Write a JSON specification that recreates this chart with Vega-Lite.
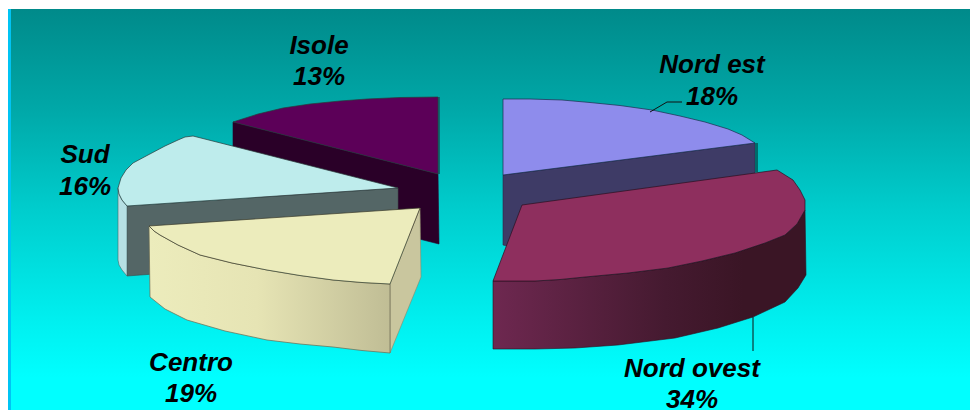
{
"$schema":"https://vega.github.io/schema/vega-lite/v6.json",
"width":970,"height":410,"padding":0,"autosize":{"type":"none"},"background":"white",
"view":{"stroke":null},
"datasets":{
"panels":[{"part":"sfondo","x":11,"x2":970,"y":9,"y2":410},{"part":"bordo","x":8,"x2":11,"y":9,"y2":410}],
"slices":[
{"slice":"Isole","share":0.13,"x":319,"yName":54,"yShare":85},
{"slice":"Sud","share":0.16,"x":85,"yName":163,"yShare":195},
{"slice":"Centro","share":0.19,"x":191,"yName":371,"yShare":402},
{"slice":"Nord est","share":0.18,"x":712,"yName":73,"yShare":105},
{"slice":"Nord ovest","share":0.34,"x":692,"yName":377,"yShare":408}],
"leaders":[
{"leader":"ne","seq":1,"x":650,"y":112},{"leader":"ne","seq":2,"x":667,"y":102},{"leader":"ne","seq":3,"x":682,"y":102},
{"leader":"no","seq":1,"x":753,"y":317},{"leader":"no","seq":2,"x":753,"y":351}],
"faces":[
{"face":"isole_cut","seq":1,"x":233,"y":122},{"face":"isole_cut","seq":2,"x":438,"y":174},{"face":"isole_cut","seq":3,"x":439,"y":244},{"face":"isole_cut","seq":4,"x":233,"y":192},{"face":"isole_cut","seq":5,"x":233,"y":122},
{"face":"isole_edge","seq":1,"x":438,"y":97},{"face":"isole_edge","seq":2,"x":440,"y":97},{"face":"isole_edge","seq":3,"x":440,"y":174},{"face":"isole_edge","seq":4,"x":438,"y":174},{"face":"isole_edge","seq":5,"x":438,"y":97},
{"face":"isole_top","seq":1,"x":438,"y":174},{"face":"isole_top","seq":2,"x":438,"y":97},{"face":"isole_top","seq":3,"x":400,"y":97.5},{"face":"isole_top","seq":4,"x":367,"y":99},{"face":"isole_top","seq":5,"x":340,"y":101},{"face":"isole_top","seq":6,"x":310,"y":104},{"face":"isole_top","seq":7,"x":283,"y":108},{"face":"isole_top","seq":8,"x":258,"y":114},{"face":"isole_top","seq":9,"x":233,"y":122},{"face":"isole_top","seq":10,"x":438,"y":174},
{"face":"sud_cut","seq":1,"x":127,"y":206},{"face":"sud_cut","seq":2,"x":398,"y":188},{"face":"sud_cut","seq":3,"x":398,"y":256},{"face":"sud_cut","seq":4,"x":127,"y":276},{"face":"sud_cut","seq":5,"x":127,"y":206},
{"face":"sud_side","seq":1,"x":118,"y":188},{"face":"sud_side","seq":2,"x":119,"y":194},{"face":"sud_side","seq":3,"x":122,"y":200},{"face":"sud_side","seq":4,"x":127,"y":206},{"face":"sud_side","seq":5,"x":127,"y":276},{"face":"sud_side","seq":6,"x":122,"y":270},{"face":"sud_side","seq":7,"x":119,"y":265},{"face":"sud_side","seq":8,"x":118,"y":260},{"face":"sud_side","seq":9,"x":118,"y":188},
{"face":"sud_top","seq":1,"x":398,"y":188},{"face":"sud_top","seq":2,"x":193,"y":136},{"face":"sud_top","seq":3,"x":185,"y":137},{"face":"sud_top","seq":4,"x":178,"y":140},{"face":"sud_top","seq":5,"x":165,"y":146},{"face":"sud_top","seq":6,"x":148,"y":155},{"face":"sud_top","seq":7,"x":133,"y":163},{"face":"sud_top","seq":8,"x":126,"y":170},{"face":"sud_top","seq":9,"x":121,"y":178},{"face":"sud_top","seq":10,"x":118,"y":188},{"face":"sud_top","seq":11,"x":119,"y":194},{"face":"sud_top","seq":12,"x":122,"y":200},{"face":"sud_top","seq":13,"x":127,"y":206},{"face":"sud_top","seq":14,"x":398,"y":188},
{"face":"ne_cut","seq":1,"x":503,"y":175},{"face":"ne_cut","seq":2,"x":755,"y":143},{"face":"ne_cut","seq":3,"x":755,"y":175},{"face":"ne_cut","seq":4,"x":507,"y":246},{"face":"ne_cut","seq":5,"x":503,"y":245},{"face":"ne_cut","seq":6,"x":503,"y":175},
{"face":"ne_edge","seq":1,"x":755,"y":143},{"face":"ne_edge","seq":2,"x":758,"y":143},{"face":"ne_edge","seq":3,"x":758,"y":172},{"face":"ne_edge","seq":4,"x":755,"y":172},{"face":"ne_edge","seq":5,"x":755,"y":143},
{"face":"ne_top","seq":1,"x":503,"y":175},{"face":"ne_top","seq":2,"x":503,"y":99},{"face":"ne_top","seq":3,"x":530,"y":99},{"face":"ne_top","seq":4,"x":562,"y":100},{"face":"ne_top","seq":5,"x":590,"y":102.5},{"face":"ne_top","seq":6,"x":620,"y":105.5},{"face":"ne_top","seq":7,"x":652,"y":110},{"face":"ne_top","seq":8,"x":680,"y":116},{"face":"ne_top","seq":9,"x":705,"y":122},{"face":"ne_top","seq":10,"x":728,"y":129},{"face":"ne_top","seq":11,"x":742,"y":135},{"face":"ne_top","seq":12,"x":755,"y":143},{"face":"ne_top","seq":13,"x":503,"y":175},
{"face":"centro_cut","seq":1,"x":390,"y":284},{"face":"centro_cut","seq":2,"x":420,"y":208},{"face":"centro_cut","seq":3,"x":421,"y":277},{"face":"centro_cut","seq":4,"x":390,"y":353},{"face":"centro_cut","seq":5,"x":390,"y":284},
{"face":"centro_side","seq":1,"x":149,"y":226},{"face":"centro_side","seq":2,"x":154,"y":231},{"face":"centro_side","seq":3,"x":160,"y":235},{"face":"centro_side","seq":4,"x":178,"y":245},{"face":"centro_side","seq":5,"x":200,"y":255},{"face":"centro_side","seq":6,"x":232,"y":263},{"face":"centro_side","seq":7,"x":267,"y":270},{"face":"centro_side","seq":8,"x":300,"y":275.5},{"face":"centro_side","seq":9,"x":333,"y":280},{"face":"centro_side","seq":10,"x":362,"y":282.5},{"face":"centro_side","seq":11,"x":390,"y":284},{"face":"centro_side","seq":12,"x":390,"y":353},{"face":"centro_side","seq":13,"x":362,"y":350.5},{"face":"centro_side","seq":14,"x":333,"y":347},{"face":"centro_side","seq":15,"x":300,"y":344},{"face":"centro_side","seq":16,"x":267,"y":340},{"face":"centro_side","seq":17,"x":225,"y":331},{"face":"centro_side","seq":18,"x":187,"y":320},{"face":"centro_side","seq":19,"x":165,"y":309},{"face":"centro_side","seq":20,"x":150,"y":297},{"face":"centro_side","seq":21,"x":149,"y":226},
{"face":"centro_top","seq":1,"x":149,"y":226},{"face":"centro_top","seq":2,"x":420,"y":208},{"face":"centro_top","seq":3,"x":390,"y":284},{"face":"centro_top","seq":4,"x":362,"y":282.5},{"face":"centro_top","seq":5,"x":333,"y":280},{"face":"centro_top","seq":6,"x":300,"y":275.5},{"face":"centro_top","seq":7,"x":267,"y":270},{"face":"centro_top","seq":8,"x":232,"y":263},{"face":"centro_top","seq":9,"x":200,"y":255},{"face":"centro_top","seq":10,"x":178,"y":245},{"face":"centro_top","seq":11,"x":160,"y":235},{"face":"centro_top","seq":12,"x":154,"y":231},{"face":"centro_top","seq":13,"x":149,"y":226},
{"face":"no_side","seq":1,"x":493,"y":281},{"face":"no_side","seq":2,"x":535,"y":281},{"face":"no_side","seq":3,"x":560,"y":279.5},{"face":"no_side","seq":4,"x":585,"y":277},{"face":"no_side","seq":5,"x":628,"y":273},{"face":"no_side","seq":6,"x":668,"y":268},{"face":"no_side","seq":7,"x":702,"y":261},{"face":"no_side","seq":8,"x":735,"y":253},{"face":"no_side","seq":9,"x":765,"y":243},{"face":"no_side","seq":10,"x":785,"y":235},{"face":"no_side","seq":11,"x":797,"y":224},{"face":"no_side","seq":12,"x":805,"y":210},{"face":"no_side","seq":13,"x":806,"y":275},{"face":"no_side","seq":14,"x":798,"y":288},{"face":"no_side","seq":15,"x":785,"y":302},{"face":"no_side","seq":16,"x":753,"y":317},{"face":"no_side","seq":17,"x":718,"y":328},{"face":"no_side","seq":18,"x":675,"y":338},{"face":"no_side","seq":19,"x":618,"y":345},{"face":"no_side","seq":20,"x":575,"y":348},{"face":"no_side","seq":21,"x":535,"y":349},{"face":"no_side","seq":22,"x":493,"y":349},{"face":"no_side","seq":23,"x":493,"y":281},
{"face":"no_top","seq":1,"x":493,"y":281},{"face":"no_top","seq":2,"x":522,"y":205},{"face":"no_top","seq":3,"x":777,"y":170},{"face":"no_top","seq":4,"x":785,"y":175},{"face":"no_top","seq":5,"x":793,"y":180},{"face":"no_top","seq":6,"x":800,"y":190},{"face":"no_top","seq":7,"x":805,"y":200},{"face":"no_top","seq":8,"x":805,"y":210},{"face":"no_top","seq":9,"x":797,"y":224},{"face":"no_top","seq":10,"x":785,"y":235},{"face":"no_top","seq":11,"x":765,"y":243},{"face":"no_top","seq":12,"x":735,"y":253},{"face":"no_top","seq":13,"x":702,"y":261},{"face":"no_top","seq":14,"x":668,"y":268},{"face":"no_top","seq":15,"x":628,"y":273},{"face":"no_top","seq":16,"x":585,"y":277},{"face":"no_top","seq":17,"x":560,"y":279.5},{"face":"no_top","seq":18,"x":535,"y":281},{"face":"no_top","seq":19,"x":493,"y":281}
]},
"data":{"name":"faces"},
"encoding":{
"x":{"field":"x","type":"quantitative","axis":null,"scale":{"domain":[0,970],"nice":false,"zero":false}},
"y":{"field":"y","type":"quantitative","axis":null,"scale":{"domain":[0,410],"reverse":true,"nice":false,"zero":false}},
"order":{"field":"seq","type":"quantitative"}
},
"layer":[
{"data":{"name":"panels"},"transform":[{"filter":"datum.part==='sfondo'"}],"mark":{"type":"rect","fill":{"gradient":"linear","x1":0,"y1":0,"x2":0,"y2":1,"stops":[{"offset":0,"color":"#008a8a"},{"offset":0.25,"color":"#00a8a8"},{"offset":0.5,"color":"#00cdcd"},{"offset":0.78,"color":"#00f0f0"},{"offset":0.92,"color":"#00ffff"},{"offset":1,"color":"#00ffff"}]}},"encoding":{"x2":{"field":"x2"},"y2":{"field":"y2"},"order":null}},
{"data":{"name":"panels"},"transform":[{"filter":"datum.part==='bordo'"}],"mark":{"type":"rect","fill":"#00c4f4"},"encoding":{"x2":{"field":"x2"},"y2":{"field":"y2"},"order":null}},
{"transform":[{"filter":"datum.face==='isole_cut'"}],"mark":{"type":"line","fill":"#2a0028","stroke":"#2a0028","strokeWidth":0.6}},
{"transform":[{"filter":"datum.face==='isole_edge'"}],"mark":{"type":"line","fill":"#0a6a70","strokeWidth":0}},
{"transform":[{"filter":"datum.face==='isole_top'"}],"mark":{"type":"line","fill":"#5c0058","stroke":"#2a3a3a","strokeWidth":0.7}},
{"transform":[{"filter":"datum.face==='sud_cut'"}],"mark":{"type":"line","fill":"#546666","stroke":"#3c4c4c","strokeWidth":0.6}},
{"transform":[{"filter":"datum.face==='sud_side'"}],"mark":{"type":"line","fill":"#b6e0e4","stroke":"#4a6a6a","strokeWidth":0.6}},
{"transform":[{"filter":"datum.face==='sud_top'"}],"mark":{"type":"line","fill":"#beecec","stroke":"#2a3a3a","strokeWidth":0.7}},
{"transform":[{"filter":"datum.face==='ne_cut'"}],"mark":{"type":"line","fill":"#3e3b66","stroke":"#2a2848","strokeWidth":0.6}},
{"transform":[{"filter":"datum.face==='ne_edge'"}],"mark":{"type":"line","fill":"#006a6a","strokeWidth":0}},
{"transform":[{"filter":"datum.face==='ne_top'"}],"mark":{"type":"line","fill":"#8e8cec","stroke":"#1c2c4c","strokeWidth":0.7}},
{"transform":[{"filter":"datum.face==='centro_cut'"}],"mark":{"type":"line","fill":"#c9c69e","stroke":"#8a8868","strokeWidth":0.6}},
{"transform":[{"filter":"datum.face==='centro_side'"}],"mark":{"type":"line","stroke":"#6a6850","strokeWidth":0.7,"fill":{"gradient":"linear","x1":0,"y1":0,"x2":1,"y2":0,"stops":[{"offset":0,"color":"#ececbc"},{"offset":0.45,"color":"#e6e4b4"},{"offset":1,"color":"#c0bd95"}]}}},
{"transform":[{"filter":"datum.face==='centro_top'"}],"mark":{"type":"line","fill":"#ececbc","stroke":"#3a3a2a","strokeWidth":0.7}},
{"transform":[{"filter":"datum.face==='no_side'"}],"mark":{"type":"line","stroke":"#2a1020","strokeWidth":0.6,"fill":{"gradient":"linear","x1":0,"y1":0,"x2":1,"y2":0,"stops":[{"offset":0,"color":"#6e2850"},{"offset":0.55,"color":"#451a30"},{"offset":0.8,"color":"#3a1525"},{"offset":1,"color":"#3a1525"}]}}},
{"transform":[{"filter":"datum.face==='no_top'"}],"mark":{"type":"line","fill":"#8e2f5e","stroke":"#2a1020","strokeWidth":0.7}},
{"data":{"name":"leaders"},"mark":{"type":"line","stroke":"#111111","strokeWidth":1},"encoding":{"detail":{"field":"leader"}}},
{"data":{"name":"slices"},"mark":{"type":"text","font":"Liberation Sans","fontSize":26,"fontWeight":"bold","fontStyle":"italic","align":"center","baseline":"alphabetic","fill":"#000000"},"encoding":{"y":{"field":"yName","type":"quantitative"},"text":{"field":"slice"},"order":null}},
{"data":{"name":"slices"},"mark":{"type":"text","font":"Liberation Sans","fontSize":26,"fontWeight":"bold","fontStyle":"italic","align":"center","baseline":"alphabetic","fill":"#000000"},"encoding":{"y":{"field":"yShare","type":"quantitative"},"text":{"field":"share","type":"quantitative","format":".0%"},"order":null}}
]
}
